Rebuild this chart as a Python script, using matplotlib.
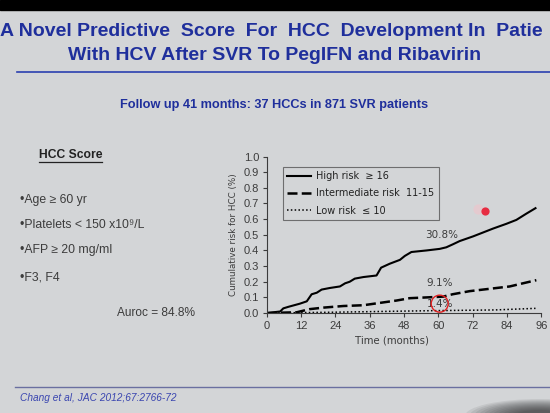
"""
HCC risk score slide: cumulative HCC risk by score group after SVR
"""
import matplotlib
matplotlib.use("Agg")
import matplotlib.pyplot as plt
from matplotlib.patches import Ellipse

# Data
high_months = [0, 4.7, 5.8, 7.6, 11.6, 14, 15.7, 17.5, 19.2, 22, 25.6, 27.4, 29, 30.8, 33.8,
               38.4, 40, 43, 46.6, 48.3, 50.6, 55.9, 60.5, 62.8, 65.2, 67.5, 72.2, 75.7,
               79.2, 83.8, 87.3, 90.8, 94]
high_risk = [0, 0.01, 0.03, 0.04, 0.06, 0.075, 0.12, 0.13, 0.15, 0.16, 0.17, 0.19, 0.2, 0.22,
             0.23, 0.24, 0.29, 0.315, 0.34, 0.365, 0.39, 0.40, 0.41, 0.42, 0.44, 0.46, 0.49,
             0.515, 0.54, 0.57, 0.595, 0.635, 0.67]
mid_months = [0, 10.5, 15, 20, 26.8, 33.8, 39.6, 45.4, 50, 56, 61.7, 65, 71, 78, 85, 89.6, 94.3]
mid_risk = [0, 0.005, 0.025, 0.035, 0.045, 0.05, 0.065, 0.08, 0.095, 0.10, 0.105, 0.12, 0.14,
            0.155, 0.17, 0.19, 0.21]
low_months = [0, 22, 57, 80, 94]
low_risk = [0, 0.005, 0.015, 0.02, 0.03]

labels = ["High risk  \u2265 16", "Intermediate risk  11-15", "Low risk  \u2264 10"]
pct_labels = ["30.8%", "9.1%", "1.4%"]
pct_pos = [(61.3, 0.50), (60.5, 0.19), (60.5, 0.06)]
x_ticks = list(range(0, 97, 12))
y_ticks = [i / 10 for i in range(11)]

bullets = ["\u2022Age \u2265 60 yr", "\u2022Platelets < 150 x10\u2079/L",
           "\u2022AFP \u2265 20 mg/ml", "\u2022F3, F4"]

BG = "#d3d5d7"
BLUE = "#1f2f9c"
GRAY = "#3c3c3c"

plt.rcParams["font.family"] = ["Liberation Sans", "DejaVu Sans"]

fig = plt.figure(figsize=(5.5, 4.13), dpi=100)
fig.patch.set_facecolor(BG)

# slide decorations, positioned in figure pixels
W, H = 550, 413
def fx(px):
    return px / W
def fy(py):
    return 1 - py / H

fig.patches.append(plt.Rectangle((0, fy(10)), 1, 10 / H, transform=fig.transFigure,
                                 color="black", zorder=0))
fig.text(fx(0), fy(31), "A Novel Predictive  Score  For  HCC  Development In  Patie",
         color=BLUE, fontsize=14, fontweight="bold", ha="left", va="center")
fig.text(fx(275), fy(55), "With HCV After SVR To PegIFN and Ribavirin",
         color=BLUE, fontsize=14, fontweight="bold", ha="center", va="center")
fig.add_artist(plt.Line2D([fx(17), 1], [fy(72), fy(72)], color="#2a3fb0", lw=1.2))
fig.text(fx(274), fy(105), "Follow up 41 months: 37 HCCs in 871 SVR patients",
         color=BLUE, fontsize=9.2, fontweight="bold", ha="center", va="center")

fig.text(fx(39), fy(155), "HCC Score", color="#222222", fontsize=8.7, fontweight="bold",
         ha="left", va="center")
fig.add_artist(plt.Line2D([fx(39), fx(102)], [fy(162), fy(162)], color="#222222", lw=0.9))
for i, b in enumerate(bullets):
    fig.text(fx(20), fy([200, 225, 250, 277][i]), b, color=GRAY, fontsize=8.8,
             ha="left", va="center")
fig.text(fx(117), fy(313), "Auroc = 84.8%", color=GRAY, fontsize=8.6, ha="left", va="center")

fig.add_artist(plt.Line2D([fx(15), 1], [fy(387), fy(387)], color="#6a6fa0", lw=1.0))
fig.text(fx(20), fy(398), "Chang et al, JAC 2012;67:2766-72", color="#3a46b0",
         fontsize=7.3, style="italic", ha="left", va="center")

# soft dark shadow in the bottom-right corner of the photo
for k in range(12):
    w = 150 - k * 9
    h = 34 - k * 2
    fig.patches.append(Ellipse((fx(540), fy(416)), w / W, h / H, transform=fig.transFigure,
                               color="#1a1a1a", alpha=0.08, lw=0, zorder=0))

# chart
ax = fig.add_axes([0.485, 0.242, 0.499, 0.379])
ax.set_facecolor("none")
ax.plot(high_months, high_risk, color="black", lw=1.5, label=labels[0])
ax.plot(mid_months, mid_risk, color="black", lw=1.8, dashes=(4, 1.7), label=labels[1])
ax.plot(low_months, low_risk, color="black", lw=1.1, ls=(0, (1, 1.5)), label=labels[2])

for txt, (x, y) in zip(pct_labels, pct_pos):
    ax.text(x, y, txt, fontsize=7.5, color=GRAY, ha="center", va="center",
            family="DejaVu Sans")
ax.scatter([pct_pos[2][0]], [pct_pos[2][1]], s=150, facecolors="none",
           edgecolors="#e02020", linewidths=1.0, zorder=5)
ax.scatter([73.8], [0.665], s=55, color="#ecc6cd", alpha=0.7, lw=0, zorder=4)
ax.scatter([76.3], [0.655], s=35, color="#e8243a", alpha=0.95, lw=0, zorder=5)

ax.set_xlim(0, 96)
ax.set_ylim(0, 1.0)
ax.set_xticks(x_ticks)
ax.set_yticks(y_ticks)
ax.set_yticklabels([f"{v:.1f}" for v in y_ticks])
ax.tick_params(labelsize=8, colors=GRAY, length=3, width=0.8, pad=2.5)
for s in ["top", "right"]:
    ax.spines[s].set_visible(False)
for s in ["left", "bottom"]:
    ax.spines[s].set_color(GRAY)
    ax.spines[s].set_linewidth(0.8)
ax.set_xlabel("Time (months)", fontsize=7.3, color=GRAY, labelpad=2, family="DejaVu Sans")
ax.xaxis.set_label_coords(0.455, -0.145)
ax.set_ylabel("Cumulative risk for HCC (%)", fontsize=6.3, color=GRAY, labelpad=4,
              family="DejaVu Sans")

leg = ax.legend(loc="upper left", bbox_to_anchor=(0.058, 0.935), borderaxespad=0,
                frameon=True, fancybox=False, edgecolor="#555555", facecolor="none",
                handlelength=2.5, handletextpad=0.5, borderpad=0.45, labelspacing=0.75,
                prop={"family": "DejaVu Sans", "size": 7})
leg.get_frame().set_linewidth(0.8)
for t in leg.get_texts():
    t.set_color("#222222")

fig.savefig("out.png", dpi=100, facecolor=BG)
